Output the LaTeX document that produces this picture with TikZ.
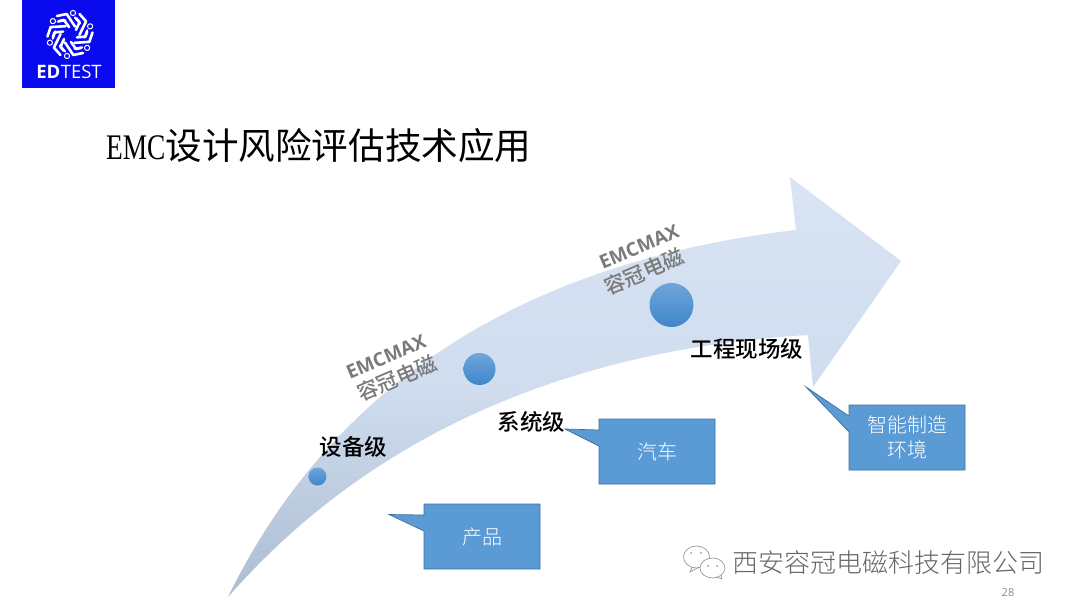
\documentclass[tikz,border=0pt]{standalone}
\usepackage{graphicx}
\usepackage{fontspec}
\setmainfont{Liberation Serif}
\newfontfamily\cjk{Noto Sans CJK SC}
\newfontfamily\cjklight{Noto Sans CJK SC Light}
\newfontfamily\cjkmed{Noto Sans CJK SC Medium}
\newfontfamily\lat{Open Sans}
\usetikzlibrary{calc}
\definecolor{logoblue}{HTML}{0A0AEE}
\definecolor{boxblue}{HTML}{5B9BD5}
\definecolor{boxedge}{HTML}{41719C}
\definecolor{arrowlight}{HTML}{D9E4F3}
\definecolor{arrowmid}{HTML}{CFDDEF}
\definecolor{arrowdark}{HTML}{ADBDD2}
\definecolor{greytxt}{HTML}{7A7A7A}
\definecolor{dottop}{HTML}{6FA5DC}
\definecolor{dotbot}{HTML}{3F86C9}
\pgfdeclareverticalshading{arrowshade}{100bp}{
  color(0bp)=(arrowdark);
  color(25bp)=(arrowdark);
  color(50bp)=(arrowmid);
  color(75bp)=(arrowlight);
  color(100bp)=(arrowlight)}
\tikzset{
  x=1pt,y=-1pt,
  callout/.style={fill=boxblue,draw=boxedge,line width=.7pt,line join=miter},
  boxtext/.style={text=white,font=\cjklight\fontsize{20}{25}\selectfont,align=center,inner sep=0pt},
  level/.style={text=black,font=\cjkmed\fontsize{22.5}{27}\selectfont,inner sep=0pt},
  brandlat/.style={text=greytxt,inner sep=0pt,rotate=23,font=\lat\bfseries\fontsize{19}{22}\selectfont},
  brandcjk/.style={text=greytxt,inner sep=0pt,rotate=23,font=\cjkmed\fontsize{21}{24}\selectfont},
  dot/.style={circle,inner sep=0pt,top color=dottop,bottom color=dotbot,draw=none},
  logostroke/.style={white,line width=2.6pt,line cap=round,line join=round}
}
\begin{document}
\begin{tikzpicture}
\useasboundingbox (0,0) rectangle (1080,610);
\fill[white] (0,0) rectangle (1080,610);
% logo
\fill[logoblue] (22,0) rectangle (115,88);
\foreach \a in {0,60,120,180,240,300}{
  \begin{scope}[shift={(70,34.5)},rotate=\a]
    \draw[logostroke] (-13,-18.5) -- (-3.3,-20.5) -- (5,-8);
    \draw[logostroke] (-11,-13.5) -- (-6,-14.5) -- (-1,-7.5);
    \draw[logostroke,line width=2.2pt] (5,-17) -- (10,-11);
    \draw[white,line width=1pt,fill=logoblue] (3,-21.5) circle (2.6);
  \end{scope}
}
\node[inner sep=0pt,text=white,anchor=center] (logotext) at (69,72)
  {\lat\fontsize{18.5}{18.5}\selectfont\textbf{ED}\kern .5pt TEST};
% title
\node[anchor=base west,inner sep=0pt] (title) at (106,159)
  {\fontsize{36}{40}\selectfont\scalebox{.76}[1]{EMC}\cjk\fontsize{36.6}{40}\selectfont 设计风险评估技术应用};
% arrow
\path[shading=arrowshade]
  (228,597) .. controls (300,450) and (450,270) .. (796,230)
  -- (790,177) -- (901,261) -- (813,387) -- (808,335)
  .. controls (640,345) and (405,395) .. (228,597) -- cycle;
% dots
\node[dot,minimum size=18pt] (d1) at (317.5,476.5) {};
\node[dot,minimum size=32pt] (d2) at (479.5,369) {};
\node[dot,minimum size=44pt] (d3) at (671.5,305) {};
% levels
\node[level] (l1) at (353.5,447) {设备级};
\node[level] (l2) at (531.5,422) {系统级};
\node[level] (l3) at (747,349) {工程现场级};
% brand
\node[brandlat] (b1a) at (386,356.5) {EMCMAX};
\node[brandcjk] (b1b) at (397,378) {容冠电磁};
\node[brandlat] (b2a) at (639,246.5) {EMCMAX};
\node[brandcjk] (b2b) at (644,271.5) {容冠电磁};
% callouts
\draw[callout] (424,504) -- (540,504) -- (540,569) -- (424,569) -- (424,531) -- (389,514.5) -- (424,515) -- cycle;
\node[boxtext] (c1) at (482,536.5) {产品};
\draw[callout] (599,419) -- (715,419) -- (715,484) -- (599,484) -- (599,446) -- (565,429) -- (599,430) -- cycle;
\node[boxtext] (c2) at (657,451.5) {汽车};
\draw[callout] (849,405) -- (965,405) -- (965,470) -- (849,470) -- (849,432) -- (806,387) -- (849,416) -- cycle;
\node[boxtext] (c3) at (907,437.5) {智能制造\\环境};
% watermark
\begin{scope}[line width=.7pt,draw=black!40,fill=white]
  \draw (696.5,557) ellipse (13 and 11);
  \draw (692,567) -- (690,572) -- (699,567);
  \draw[fill=white] (712.5,568) ellipse (12.5 and 10);
  \draw (716,577) -- (722,579) -- (721,575);
  \fill[black!40] (691,553) circle (1) (701,553) circle (1) (708,566) circle (1) (717,566) circle (1);
\end{scope}
\node[anchor=west,inner sep=0pt,text=black!60] (wm) at (732,563) {\cjklight\fontsize{26}{30}\selectfont 西安容冠电磁科技有限公司};
\node[inner sep=0pt,text=black!45] (pg) at (1008,593) {\lat\fontsize{11}{12}\selectfont 28};
\end{tikzpicture}
\end{document}
